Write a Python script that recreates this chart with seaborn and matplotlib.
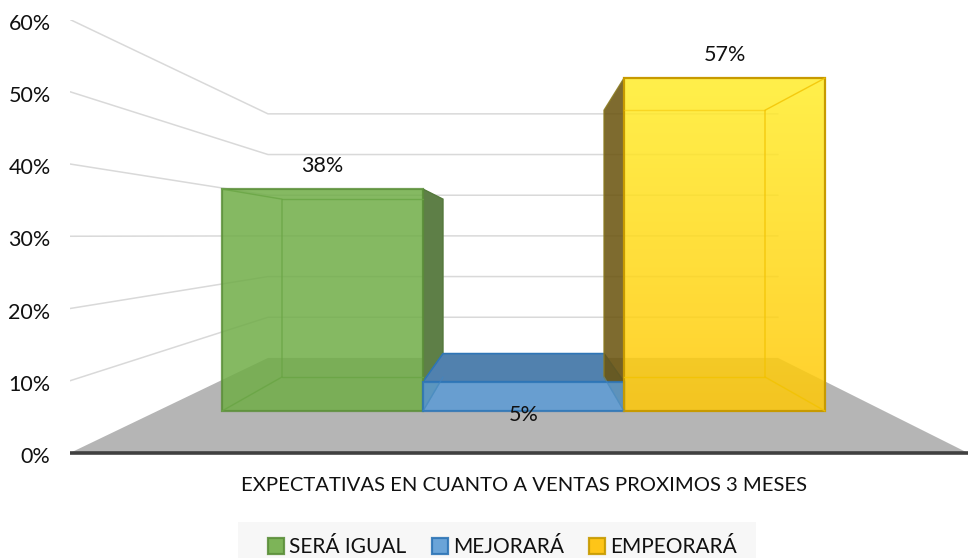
import numpy as np
import matplotlib
matplotlib.use("Agg")
import matplotlib.pyplot as plt
import seaborn as sns
from matplotlib.colors import LinearSegmentedColormap
from matplotlib.patches import Patch, Polygon, Rectangle
from matplotlib.transforms import ScaledTranslation

categorias = ["SERÁ IGUAL", "MEJORARÁ", "EMPEORARÁ"]
valores = [38, 5, 57]
ticks = [0, 10, 20, 30, 40, 50, 60]
titulo_eje = "EXPECTATIVAS EN CUANTO A VENTAS PROXIMOS 3 MESES"
colores = ["#70AD47", "#5B9BD5", "#FFC000"]
bordes = ["#5C8F3A", "#2E75B6", "#C79A00"]
internos = ["#69A544", "#3F86C6", "#F2C200"]

sns.set_theme(style="white")
plt.rcParams["font.family"] = ["Lato", "DejaVu Sans"]

W, H = 968, 558
fig = plt.figure(figsize=(W / 100, H / 100), dpi=100, facecolor="white")


def px_axes(zorder):
    # full figure axes in reference pixels, for the faked 3d faces
    a = fig.add_axes([0, 0, 1, 1], zorder=zorder)
    a.set_xlim(0, W)
    a.set_ylim(H, 0)
    a.axis("off")
    a.patch.set_alpha(0)
    return a


# perspective of the excel 3d bars
def front_y(v):
    return 411 - 5.84 * v


def back_y(v):
    return 377 - 4.68 * v


def front_x(i):
    return 222 + 201 * i


def back_x(i):
    return 282 + 161 * i


# walls + floor
wall = fig.add_axes([70 / W, (H - 453) / H, (W - 70) / W, 433.5 / H], zorder=0)
wall.set_xlim(70, W)
wall.set_ylim(0, 60)
wall.patch.set_alpha(0)
sns.despine(ax=wall, left=True, bottom=True)
floor_back = 13.16
back_ratio = 0.563
wall.add_patch(Polygon([(70, 0), (W, 0), (778, floor_back), (268, floor_back)],
                       facecolor="#B5B5B5", edgecolor="none", zorder=1))
for t in ticks[1:]:
    yb = floor_back + t * back_ratio
    wall.plot([70, 268, 778], [t, yb, yb], color="#D9D9D9", lw=1.1, zorder=2)
wall.plot([70, W], [0, 0], color="#404040", lw=2.6, clip_on=False, zorder=3,
          solid_capstyle="butt")
wall.set_yticks(ticks)
wall.set_yticklabels([f"{t}%" for t in ticks], fontsize=15.5, color="#111111")
wall.tick_params(axis="y", length=0, pad=14)
# labels sit a bit under their grid ends
down = ScaledTranslation(0, -1.5 / 72, fig.dpi_scale_trans)
for lab in wall.get_yticklabels():
    lab.set_transform(lab.get_transform() + down)
wall.set_xticks([])
wall.set_xlabel(titulo_eje, x=0.5056, fontsize=14.6, color="#111111", labelpad=17)

# side and top faces, behind the front of the bars
depth = px_axes(1)
g_top, b_top, y_top = front_y(valores[0]), front_y(valores[1]), front_y(valores[2])
depth.add_patch(Polygon([(front_x(1), g_top), (back_x(1), back_y(valores[0])),
                         (back_x(1), back_y(0)), (front_x(1), front_y(0))],
                        facecolor="#5E7F47", edgecolor="#55793C", lw=1))
depth.add_patch(Polygon([(front_x(1), b_top), (back_x(1), back_y(valores[1])),
                         (back_x(2), back_y(valores[1])), (front_x(2), b_top)],
                        facecolor="#5181AE", edgecolor=bordes[1], lw=1.2))
depth.add_patch(Polygon([(front_x(2), y_top), (back_x(2), back_y(valores[2])),
                         (back_x(2), back_y(0)), (front_x(2), front_y(0))],
                        facecolor="#6B5510", alpha=0.87, edgecolor="#8A7A20", lw=1))

# front faces
bars = fig.add_axes([222 / W, (H - 411) / H, 603 / W, 5.84 * 60 / H], zorder=2)
bars.patch.set_alpha(0)
sns.barplot(x=categorias, y=valores, hue=categorias, palette=colores, width=1,
            saturation=1, alpha=0.85, dodge=False, legend=False, ax=bars)
bars.set_xlim(-0.5, 2.5)
bars.set_ylim(0, 60)
bars.axis("off")
for p, b in zip(bars.patches, bordes):
    p.set_edgecolor(b)
    p.set_linewidth(1.6)
    p.set_clip_on(False)

# the yellow one has a gradient
grad = LinearSegmentedColormap.from_list("grad", ["#FFED2A", "#FFC807"])
yp = bars.patches[2]
yp.set_facecolor("none")
yp.set_alpha(None)
yp.set_edgecolor(bordes[2])
im = bars.imshow(np.linspace(0, 1, 256)[:, None], cmap=grad, alpha=0.85, aspect="auto",
                 extent=(yp.get_x(), yp.get_x() + yp.get_width(), 0, yp.get_height()), zorder=0.5)
im.set_clip_path(yp)
bars.set_xlim(-0.5, 2.5)
bars.set_ylim(0, 60)

for i, v in enumerate(valores):
    if i == 1:
        bars.annotate(f"{v}%", (i, 0), xytext=(0, -4), textcoords="offset pixels",
                      ha="center", va="center", fontsize=15.5, color="#111111")
    else:
        bars.annotate(f"{v}%", (i, v), xytext=(0, 23), textcoords="offset pixels",
                      ha="center", va="center", fontsize=15.5, color="#111111")

# inner edges of the boxes seen through the front
top = px_axes(3)
for i, v in enumerate(valores):
    c = internos[i]
    x0, x1 = front_x(i), front_x(i + 1)
    bx0, bx1 = back_x(i), back_x(i + 1)
    yf, yb = front_y(v), back_y(v)
    if i == 0:
        top.plot([x0, bx0, bx0], [yf, yb, back_y(0)], color=c, lw=1, alpha=0.8)
        top.plot([bx0, x1], [yb, yb], color=c, lw=1, alpha=0.8)
        top.plot([bx0, x1], [back_y(0), back_y(0)], color=c, lw=1, alpha=0.8)
        top.plot([x0, bx0], [front_y(0), back_y(0)], color=c, lw=1, alpha=0.8)
    elif i == 1:
        top.plot([x0, bx0], [front_y(0), back_y(0)], color=c, lw=1, alpha=0.5)
        top.plot([x1, bx1], [front_y(0), back_y(0)], color=c, lw=1, alpha=0.5)
    else:
        top.plot([x1, bx1, bx1], [yf, yb, back_y(0)], color=c, lw=1, alpha=0.8)
        top.plot([x0, bx1], [yb, yb], color=c, lw=1, alpha=0.5)
        top.plot([x0, bx1], [back_y(0), back_y(0)], color=c, lw=1, alpha=0.8)
        top.plot([x1, bx1], [front_y(0), back_y(0)], color=c, lw=1, alpha=0.8)

# legend band runs off the lower edge like in the original
fig.add_artist(Rectangle((238 / W, 0), 518 / W, (H - 522) / H, transform=fig.transFigure,
                         facecolor="#F7F7F7", edgecolor="none", zorder=-1))
handles = [Patch(facecolor=c, edgecolor=b, alpha=0.9, lw=1.6) for c, b in zip(colores, bordes)]
fig.legend(handles, categorias, loc="lower left", bbox_to_anchor=(268 / W, 1 / H), ncol=3,
           fontsize=15, frameon=False, handlelength=0.77, handleheight=0.77,
           handletextpad=0.24, columnspacing=1.22, borderpad=0, borderaxespad=0,
           labelcolor="#111111")

fig.savefig("out.png", dpi=100)
